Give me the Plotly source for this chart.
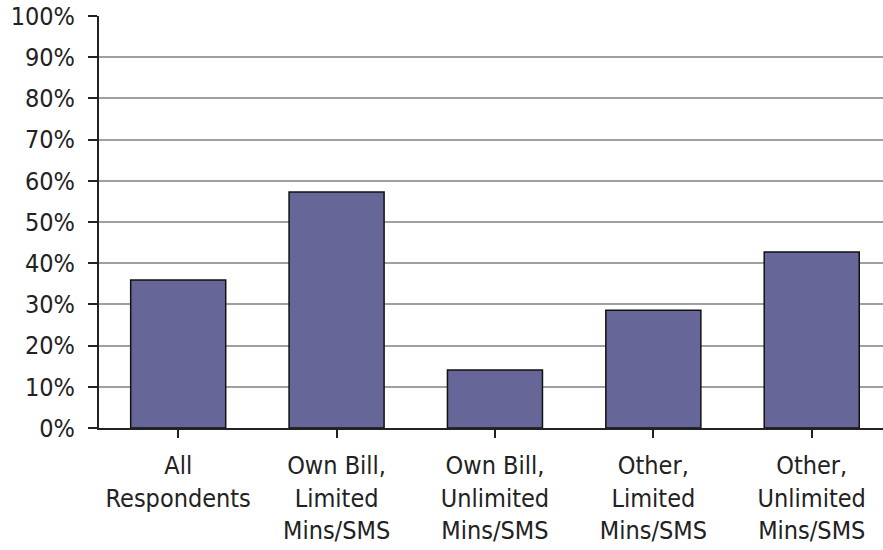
import plotly.graph_objects as go

categories = [
    "All<br>Respondents",
    "Own Bill,<br>Limited<br>Mins/SMS",
    "Own Bill,<br>Unlimited<br>Mins/SMS",
    "Other,<br>Limited<br>Mins/SMS",
    "Other,<br>Unlimited<br>Mins/SMS",
]
shares = [35.9, 57.3, 14.1, 28.6, 42.7]

font = dict(family="DejaVu Sans Condensed, DejaVu Sans, sans-serif", size=25, color="#222222")

fig = go.Figure(
    go.Bar(
        x=list(range(len(categories))),
        y=shares,
        width=0.6,
        marker=dict(color="#666699", line=dict(color="#111111", width=1.5)),
    )
)

fig.update_layout(
    width=883,
    height=550,
    margin=dict(l=99, r=0, t=16, b=122),
    plot_bgcolor="white",
    paper_bgcolor="white",
    font=font,
    showlegend=False,
    bargap=0.4,
)

fig.update_xaxes(
    range=[-0.5, 4.45],
    tickmode="array",
    tickvals=list(range(len(categories))),
    ticktext=categories,
    ticks="outside",
    tickson="boundaries",
    ticklen=8,
    tickwidth=2,
    tickcolor="#222222",
    ticklabelstandoff=6,
    showline=True,
    linecolor="#222222",
    linewidth=2,
    showgrid=False,
    zeroline=False,
    tickfont=font,
)

fig.update_yaxes(
    range=[0, 100],
    dtick=10,
    ticksuffix="%",
    ticks="outside",
    ticklen=9,
    tickwidth=2,
    tickcolor="#222222",
    ticklabelstandoff=8,
    showline=True,
    linecolor="#222222",
    linewidth=2,
    showgrid=True,
    gridcolor="#a0a0a0",
    gridwidth=2,
    zeroline=False,
    tickfont=font,
)

fig.write_html("out.html")
